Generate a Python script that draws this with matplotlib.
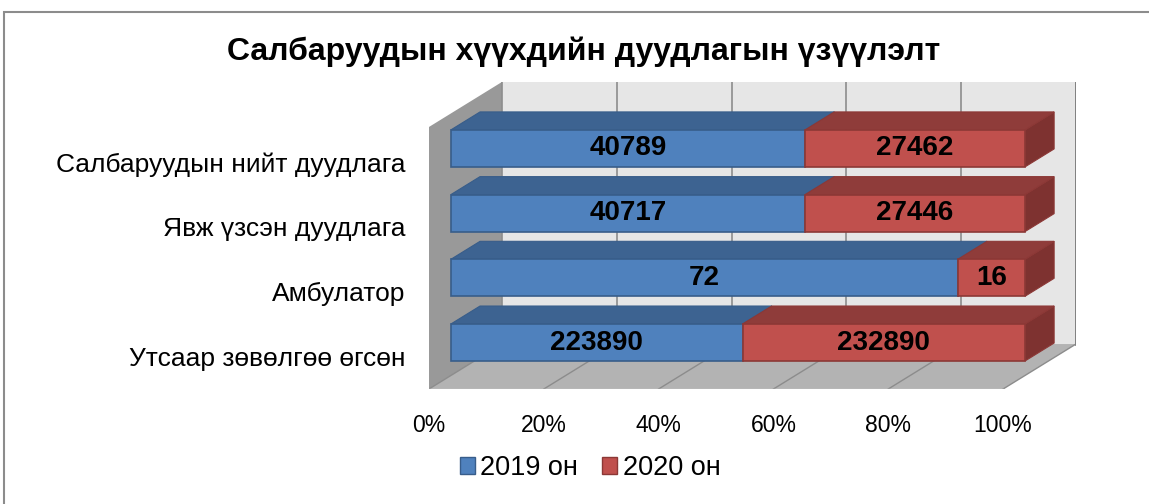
import matplotlib
matplotlib.use("Agg")
import matplotlib.pyplot as plt
from matplotlib.patches import Polygon, Patch, Rectangle
import numpy as np

plt.rcParams['font.family'] = ['Liberation Sans', 'DejaVu Sans']

# data (bottom -> top)
categories = ["Утсаар зөвөлгөө өгсөн", "Амбулатор", "Явж үзсэн дуудлага", "Салбаруудын нийт дуудлага"]
calls_2019 = [223890, 72, 40717, 40789]
calls_2020 = [232890, 16, 27446, 27462]
# share of 2019 in each bar, as drawn in the picture (%)
share_2019 = [50.8, 88.3, 61.7, 61.7]
series = ["2019 он", "2020 он"]
xticks = [0, 20, 40, 60, 80, 100]

title = "Салбаруудын хүүхдийн дуудлагын үзүүлэлт"

# 3d look: depth vector in data units
DX = 12.7
DY = 0.695
FLOOR = -0.51
TOP = 3.54
Z0, Z1 = 0.3, 0.7
HALF = 0.286

front_col = ["#4F81BD", "#C0504D"]
top_col = ["#3D6391", "#8F3C3A"]
side_col = ["#345580", "#7E3230"]
edge_col = ["#385D8A", "#8C3836"]


def P(x, y, z):
    return (x + z * DX, y + z * DY)


fig = plt.figure(figsize=(11.49, 5.04), dpi=100)
ax = fig.add_axes([429 / 1149, 115 / 504, 647 / 1149, 307 / 504])
ax.set_xlim(0, 100 + DX)
ax.set_ylim(FLOOR, TOP + DY)
for s in ax.spines.values():
    s.set_visible(False)

wall_edge = "#8C8C8C"
# back wall
ax.add_patch(Polygon([P(0, FLOOR, 1), P(100, FLOOR, 1), P(100, TOP, 1), P(0, TOP, 1)],
                     closed=True, fc="#E6E6E6", ec="none", zorder=1))
# left wall
ax.add_patch(Polygon([P(0, FLOOR, 0), P(0, TOP, 0), P(0, TOP, 1), P(0, FLOOR, 1)],
                     closed=True, fc="#999999", ec="none", zorder=1))
# floor
ax.add_patch(Polygon([P(0, FLOOR, 0), P(100, FLOOR, 0), P(100, FLOOR, 1), P(0, FLOOR, 1)],
                     closed=True, fc="#B3B3B3", ec="none", zorder=1))

# grid lines on back wall and floor
for t in xticks:
    a, b = P(t, FLOOR, 1), P(t, TOP, 1)
    ax.plot([a[0], b[0]], [a[1], b[1]], color=wall_edge, lw=1.2, zorder=2)
    c = P(t, FLOOR, 0)
    ax.plot([c[0], a[0]], [c[1], a[1]], color=wall_edge, lw=1.0, zorder=2)
# right edge of back wall and floor front edge
a, b = P(100, FLOOR, 1), P(100, TOP, 1)
ax.plot([a[0], b[0]], [a[1], b[1]], color="#7F7F7F", lw=2, zorder=2)
a, b = P(0, FLOOR, 0), P(100, FLOOR, 0)
ax.plot([a[0], b[0]], [a[1], b[1]], color="#C8C8C8", lw=1, zorder=2)


def box(x0, x1, yc, k):
    y0, y1 = yc - HALF, yc + HALF
    side = [P(x1, y0, Z0), P(x1, y0, Z1), P(x1, y1, Z1), P(x1, y1, Z0)]
    top = [P(x0, y1, Z0), P(x1, y1, Z0), P(x1, y1, Z1), P(x0, y1, Z1)]
    front = [P(x0, y0, Z0), P(x1, y0, Z0), P(x1, y1, Z0), P(x0, y1, Z0)]
    ax.add_patch(Polygon(side, closed=True, fc=side_col[k], ec=edge_col[k], lw=0.8, zorder=3))
    ax.add_patch(Polygon(top, closed=True, fc=top_col[k], ec=edge_col[k], lw=0.8, zorder=3))
    ax.add_patch(Polygon(front, closed=True, fc=front_col[k], ec=edge_col[k], lw=1.2, zorder=3))


for i in range(len(categories)):
    s = share_2019[i]
    segs = [(0, s, calls_2019[i]), (s, 100, calls_2020[i])]
    for k, (x0, x1, v) in enumerate(segs):
        box(x0, x1, i, k)
        cx, cy = P((x0 + x1) / 2, i, Z0)
        ax.text(cx, cy, str(v), ha="center", va="center", fontsize=20,
                fontweight="bold", color="black", zorder=4)

ax.set_xticks(xticks)
ax.set_xticklabels([f"{t}%" for t in xticks])
ax.set_yticks(range(len(categories)))
ax.set_yticklabels(categories)
ax.tick_params(axis="x", length=0, pad=18, labelsize=16.5)
ax.tick_params(axis="y", length=0, pad=17, labelsize=19)

fig.text(584 / 1149, 1 - 52 / 504, title, ha="center", va="center",
         fontsize=23, fontweight="bold")

handles = [Patch(fc=front_col[k], ec=edge_col[k]) for k in range(2)]
fig.legend(handles, series, ncol=2, loc="center",
           bbox_to_anchor=(590 / 1149, 1 - 468 / 504), frameon=False,
           fontsize=19.5, handlelength=0.55, handleheight=0.55,
           handletextpad=0.2, columnspacing=0.9)

# outer chart border
fig.patches.append(Rectangle((4 / 1149, -0.5), 2.0, 1.5 - 12 / 504,
                             transform=fig.transFigure, fill=False,
                             ec="#8C8C8C", lw=1.5))

fig.savefig("out.png", dpi=100)
